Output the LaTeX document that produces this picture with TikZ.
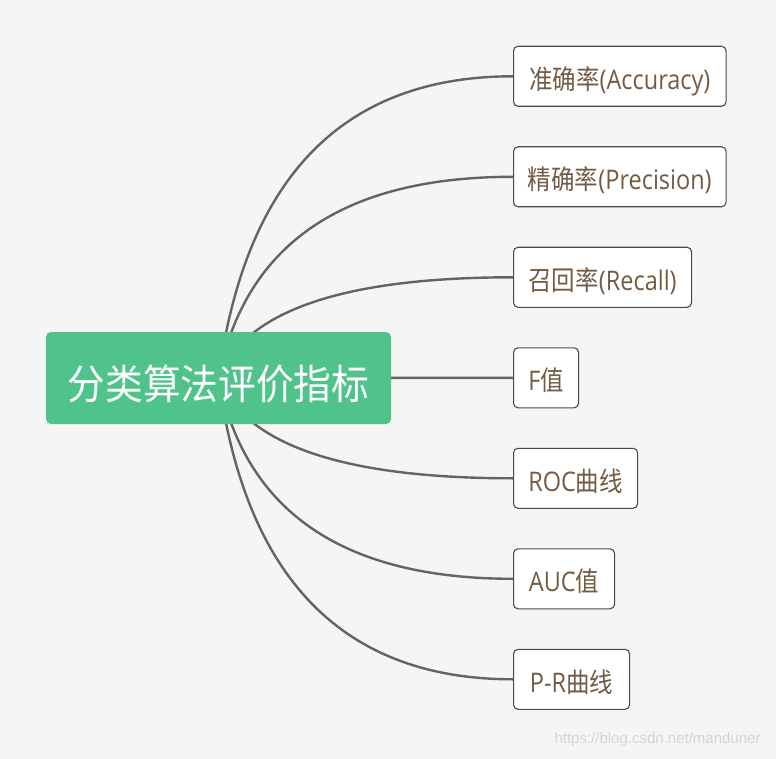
\documentclass[tikz,border=0pt]{standalone}
\usepackage{fontspec}
\setmainfont[FakeStretch=0.87]{Open Sans}
\newfontfamily\cjk[FakeStretch=0.87]{Noto Sans CJK SC}
\newfontfamily\cjkroot[FakeStretch=0.92]{Noto Sans CJK SC}
\newfontfamily\wmfont{Liberation Sans}
\usetikzlibrary{calc}
\definecolor{bgc}{HTML}{F5F5F5}
\definecolor{rootc}{HTML}{50C38B}
\definecolor{txtc}{HTML}{735B44}
\definecolor{linec}{HTML}{646464}
\definecolor{boxc}{HTML}{4A4A4A}
\definecolor{wmc}{HTML}{D4D4D4}
\pgfdeclarelayer{bg}
\pgfsetlayers{bg,main}
\tikzset{
  leaf/.style={draw=boxc, line width=1.1pt, fill=white, rounded corners=4.5pt,
    minimum height=60pt, inner sep=0pt, text=txtc, anchor=west,
    text height=25.6pt, text depth=0pt,
    font=\fontsize{27}{30}\selectfont},
  rootbox/.style={fill=rootc, rounded corners=5pt, minimum width=345pt,
    minimum height=92pt, inner sep=0pt, text=white,
    text height=42pt, text depth=0pt,
    font=\cjkroot\fontsize{41}{46}\selectfont},
  conn/.style={draw=linec, line width=2.4pt},
  wm/.style={text=wmc, font=\wmfont\fontsize{15}{18}\selectfont, inner sep=0pt}
}
\begin{document}
\begin{tikzpicture}[x=1pt,y=-1pt]
\begin{pgfonlayer}{bg}
  \fill[bgc] (0,0) rectangle (776,759);
\end{pgfonlayer}
\useasboundingbox (0,0) rectangle (776,759);

\node[rootbox] (root) at (218.5,378) {分类算法评价指标};

\node[leaf, minimum width=212.5pt] (a) at (513,76.3)  {{\cjk 准确率}(Accuracy)};
\node[leaf, minimum width=212.5pt] (b) at (513,176.8) {{\cjk 精确率}(Precision)};
\node[leaf, minimum width=178pt]   (c) at (513,277.3) {{\cjk 召回率}(Recall)};
\node[leaf, minimum width=65pt]    (d) at (513,377.8) {F{\cjk 值}};
\node[leaf, minimum width=124pt]   (e) at (513,478.3) {ROC{\cjk 曲线}};
\node[leaf, minimum width=101pt]   (f) at (513,578.8) {AUC{\cjk 值}};
\node[leaf, minimum width=116pt]   (g) at (513,679.3) {P-R{\cjk 曲线}};

\node[wm] (mark) at (657.5,740) {https://blog.csdn.net/manduner};

\coordinate (rc) at ($(root.center)+(40,0)$);
\begin{pgfonlayer}{bg}
  \foreach \n in {a,b,c,d,e,f,g}{
    \coordinate (q\n) at (rc |- \n.west);
    \draw[conn] (root.center) .. controls ($(root.center)!2/3!(q\n)$)
      and ($(\n.west)!2/3!(q\n)$) .. (\n.west);
  }
\end{pgfonlayer}
\end{tikzpicture}
\end{document}
